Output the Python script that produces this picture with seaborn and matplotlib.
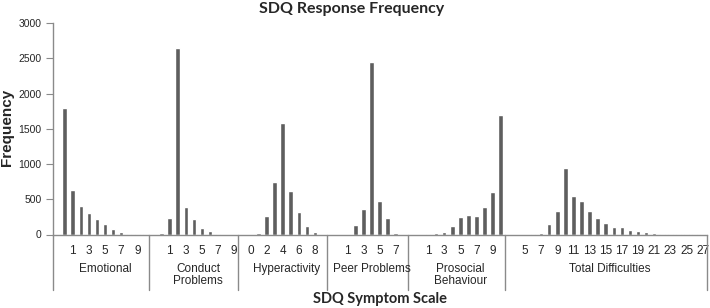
import matplotlib
matplotlib.use('Agg')
import matplotlib.pyplot as plt
import seaborn as sns
import pandas as pd

# SDQ groups, each with a leading blank category (as in the source chart)
groups = ['Emotional', 'Conduct\nProblems', 'Hyperactivity', 'Peer Problems',
          'Prosocial\nBehaviour', 'Total Difficulties']

emotional_scores = [''] + [str(s) for s in range(0, 11)]
emotional_freq = [0, 1790, 631, 410, 306, 221, 146, 75, 33, 14, 10, 12]

conduct_scores = [''] + [str(s) for s in range(0, 10)]
conduct_freq = [0, 18, 240, 2640, 386, 226, 99, 51, 14, 0, 0]

hyper_scores = [''] + [str(s) for s in range(0, 10)]
hyper_freq = [0, 0, 20, 259, 740, 1579, 613, 316, 118, 33, 0]

peer_scores = [''] + [str(s) for s in range(0, 9)]
peer_freq = [0, 0, 0, 141, 358, 2440, 475, 240, 28, 0]

prosocial_scores = [''] + [str(s) for s in range(0, 11)]
prosocial_freq = [0, 0, 10, 18, 33, 122, 249, 283, 263, 393, 600, 1690]

total_scores = [''] + [str(s) for s in range(4, 28)]
total_freq = [0, 0, 0, 8, 28, 150, 335, 940, 552, 478, 328, 230, 168, 112,
              102, 68, 50, 35, 15, 10, 10, 10, 10, 10, 10]

all_scores = [emotional_scores, conduct_scores, hyper_scores, peer_scores,
              prosocial_scores, total_scores]
all_freq = [emotional_freq, conduct_freq, hyper_freq, peer_freq,
            prosocial_freq, total_freq]

rows = []
for g, (sc, fr) in enumerate(zip(all_scores, all_freq)):
    for s, f in zip(sc, fr):
        rows.append({'key': f'{g}|{s}', 'group': groups[g], 'score': s, 'freq': f})
df = pd.DataFrame(rows)
order = list(df['key'])

sns.set_style('white')
plt.rcParams['font.family'] = ['Liberation Sans', 'DejaVu Sans']

W, H = 710, 308
fig = plt.figure(figsize=(W / 100, H / 100), dpi=100)
ax_l, ax_r, ax_b, ax_t = 52.5, 706.7, 234.5, 23
ax = fig.add_axes([ax_l / W, 1 - ax_b / H, (ax_r - ax_l) / W, (ax_b - ax_t) / H])

axis_gray = '#8a8a8a'
sns.barplot(data=df, x='key', y='freq', order=order, color='#5e5e5e',
            saturation=1, width=0.56, ax=ax)

n = len(order)
ax.set_xlim(-0.5, n - 0.5)
ax.set_ylim(0, 3000)
ax.set_yticks(range(0, 3001, 500))
ax.tick_params(axis='y', length=5, width=0.8, color=axis_gray, pad=3,
               labelsize=7.5, left=True)

# category labels on every other category
ax.set_xticks(range(0, n, 2))
ax.set_xticklabels([df['score'].iloc[i] for i in range(0, n, 2)], fontsize=8.5)
ax.tick_params(axis='x', length=0, pad=7.5)
ax.set_xlabel('')
ax.set_ylabel('')

for side in ['top', 'right']:
    ax.spines[side].set_visible(False)
for side in ['left', 'bottom']:
    ax.spines[side].set_color(axis_gray)
    ax.spines[side].set_linewidth(1.0)

# group separators and group labels
tr = ax.get_xaxis_transform()
ah = ax_b - ax_t
sep_bottom = -(290 - ax_b) / ah
label_top = -(263 - ax_b) / ah
start = 0
for g, sc in enumerate(all_scores):
    end = start + len(sc)
    ax.plot([start - 0.5, start - 0.5], [0, sep_bottom], color=axis_gray,
            lw=1.0, transform=tr, clip_on=False)
    ax.text((start + end - 1) / 2 + 0.5, label_top, groups[g], transform=tr,
            ha='center', va='top', fontsize=8.5, linespacing=1.05)
    start = end
ax.plot([n - 0.5, n - 0.5], [0, sep_bottom], color=axis_gray, lw=1.0,
        transform=tr, clip_on=False)

fig.text(352 / W, 1 - 8.5 / H, 'SDQ Response Frequency', ha='center', va='center',
         fontsize=11.5, fontweight='bold', family=['Lato', 'DejaVu Sans'])
fig.text(7 / W, 1 - 127.5 / H, 'Frequency', ha='center', va='center',
         rotation=90, fontsize=11, fontweight='bold')
fig.text((ax_l + ax_r) / 2 / W, 1 - 299.5 / H, 'SDQ Symptom Scale', ha='center',
         va='center', fontsize=10.5, fontweight='bold', family=['Lato', 'DejaVu Sans'])

fig.savefig('out.png', dpi=100)
